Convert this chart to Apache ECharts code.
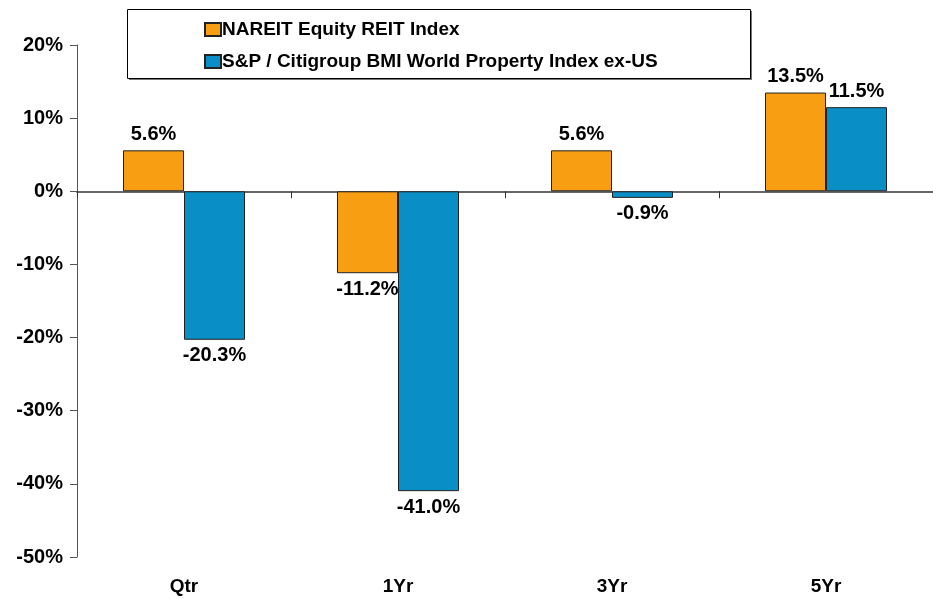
<!DOCTYPE html>
<html>
<head>
<meta charset="utf-8">
<script src="https://cdn.jsdelivr.net/npm/echarts@6/dist/echarts.min.js"></script>
<style>
  html, body { margin: 0; padding: 0; background: #fff; }
  #main { width: 933px; height: 599px; }
</style>
</head>
<body>
<div id="main"></div>
<script>
var periods = ['Qtr', '1Yr', '3Yr', '5Yr'];
var nareit = [5.6, -11.2, 5.6, 13.5];
var worldExUS = [-20.3, -41.0, -0.9, 11.5];
var seriesNames = ['NAREIT Equity REIT Index', 'S&P / Citigroup BMI World Property Index ex-US'];

var chart = echarts.init(document.getElementById('main'));
var font = 'Liberation Sans, Arial, sans-serif';

// values below zero put their label under the bar
function withLabelSide(arr) {
  return arr.map(function (v) {
    return v < 0 ? { value: v, label: { position: 'bottom' } } : v;
  });
}

function pct(p) {
  return Number(p.value).toFixed(1) + '%';
}

var labelStyle = {
  show: true, position: 'top', distance: 6, formatter: pct,
  fontSize: 20, fontWeight: 'bold', color: '#000', fontFamily: font
};

var option = {
  animation: false,
  backgroundColor: '#fff',
  textStyle: { fontFamily: font },
  graphic: [
    {
      // legend box shadow
      type: 'rect',
      shape: { x: 129, y: 11, width: 623, height: 69 },
      style: { fill: '#777' },
      z: 0
    },
    {
      type: 'rect',
      shape: { x: 127.5, y: 9.5, width: 623, height: 69 },
      style: { fill: '#fff', stroke: '#000', lineWidth: 1 },
      z: 1
    }
  ],
  legend: {
    orient: 'vertical',
    left: 199,
    top: 15,
    icon: 'rect',
    itemWidth: 16,
    itemHeight: 13,
    itemGap: 13,
    z: 10,
    textStyle: { fontFamily: font, fontSize: 19, fontWeight: 'bold', color: '#000', padding: [0, 0, 0, -4] },
    data: seriesNames
  },
  grid: { left: 77, top: 45, width: 858, bottom: 42, containLabel: false },
  xAxis: [
    {
      type: 'category',
      data: periods,
      axisLine: { onZero: true, lineStyle: { color: '#666', width: 2 } },
      axisTick: { show: true, length: 7, lineStyle: { color: '#333', width: 1 } },
      axisLabel: { show: false }
    },
    {
      type: 'category',
      data: periods,
      position: 'bottom',
      axisLine: { show: false, onZero: false },
      axisTick: { show: false },
      axisLabel: { margin: 20, fontSize: 19, fontWeight: 'bold', color: '#000', fontFamily: font }
    }
  ],
  yAxis: {
    type: 'value',
    min: -50,
    max: 20,
    interval: 10,
    axisLine: { show: true, lineStyle: { color: '#555', width: 1 } },
    axisTick: { show: true, length: 7, lineStyle: { color: '#555' } },
    splitLine: { show: false },
    axisLabel: { formatter: '{value}%', margin: 14, fontSize: 20, fontWeight: 'bold', color: '#000', fontFamily: font }
  },
  series: [
    {
      name: seriesNames[0],
      type: 'bar',
      data: withLabelSide(nareit),
      barWidth: 61,
      barGap: '0%',
      itemStyle: { color: '#F79E12', borderColor: '#222', borderWidth: 1 },
      label: labelStyle
    },
    {
      name: seriesNames[1],
      type: 'bar',
      data: withLabelSide(worldExUS),
      barWidth: 61,
      barGap: '0%',
      itemStyle: { color: '#0A8EC6', borderColor: '#222', borderWidth: 1 },
      label: labelStyle
    }
  ]
};

chart.setOption(option);
</script>
</body>
</html>
